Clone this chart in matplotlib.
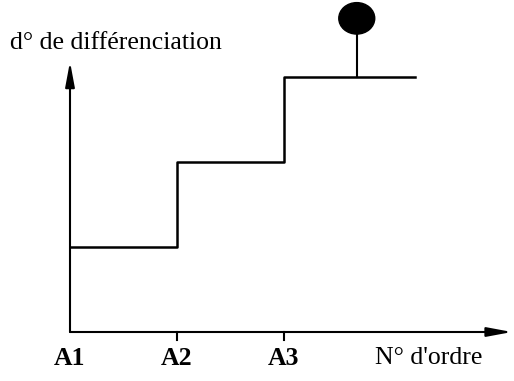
import matplotlib.pyplot as plt
from matplotlib.patches import Ellipse

# stages along the x axis and their differentiation level
stages = ["A1", "A2", "A3"]
stage_x = [0, 1, 2]
levels = [1, 2, 3]
line_end = 3.22
marker_x = 2.68

plt.rcParams["font.family"] = ["Liberation Serif", "DejaVu Serif"]

fig = plt.figure(figsize=(5.14, 3.81), dpi=100)
ax = fig.add_axes([0, 0, 1, 1])
ax.set_xlim(-70 / 107, 444 / 107)
ax.set_ylim(-49 / 85, 332 / 85)
ax.axis("off")

# axes with arrows
arrow = dict(arrowstyle="-|>,head_length=1.5,head_width=0.28", color="black", lw=1.5,
             shrinkA=0, shrinkB=0)
ax.annotate("", xy=(0, 3.18), xytext=(0, 0), arrowprops=arrow)
ax.annotate("", xy=(4.13, 0), xytext=(0, 0), arrowprops=arrow)

# tick marks for A2, A3
for x in stage_x[1:]:
    ax.plot([x, x], [0, -0.09], color="black", lw=1.5)

# staircase
xs = stage_x + [line_end]
ys = levels + [levels[-1]]
ax.step(xs, ys, where="post", color="black", lw=1.8)

# marker on top level
ax.plot([marker_x, marker_x], [levels[-1], 3.52], color="black", lw=1.5)
ax.add_patch(Ellipse((marker_x, 3.69), 0.336, 0.37, color="black"))

# labels
for name, x in zip(stages, stage_x):
    ax.text(x, -0.31, name, ha="center", va="center", fontsize=18.5, fontweight="bold")
ax.text(3.355, -0.31, "N° d'ordre", ha="center", va="center", fontsize=18.5)
ax.text(-0.56, 3.40, "d° de différenciation", ha="left", va="center", fontsize=18.5)

fig.savefig("out.png", dpi=100)
